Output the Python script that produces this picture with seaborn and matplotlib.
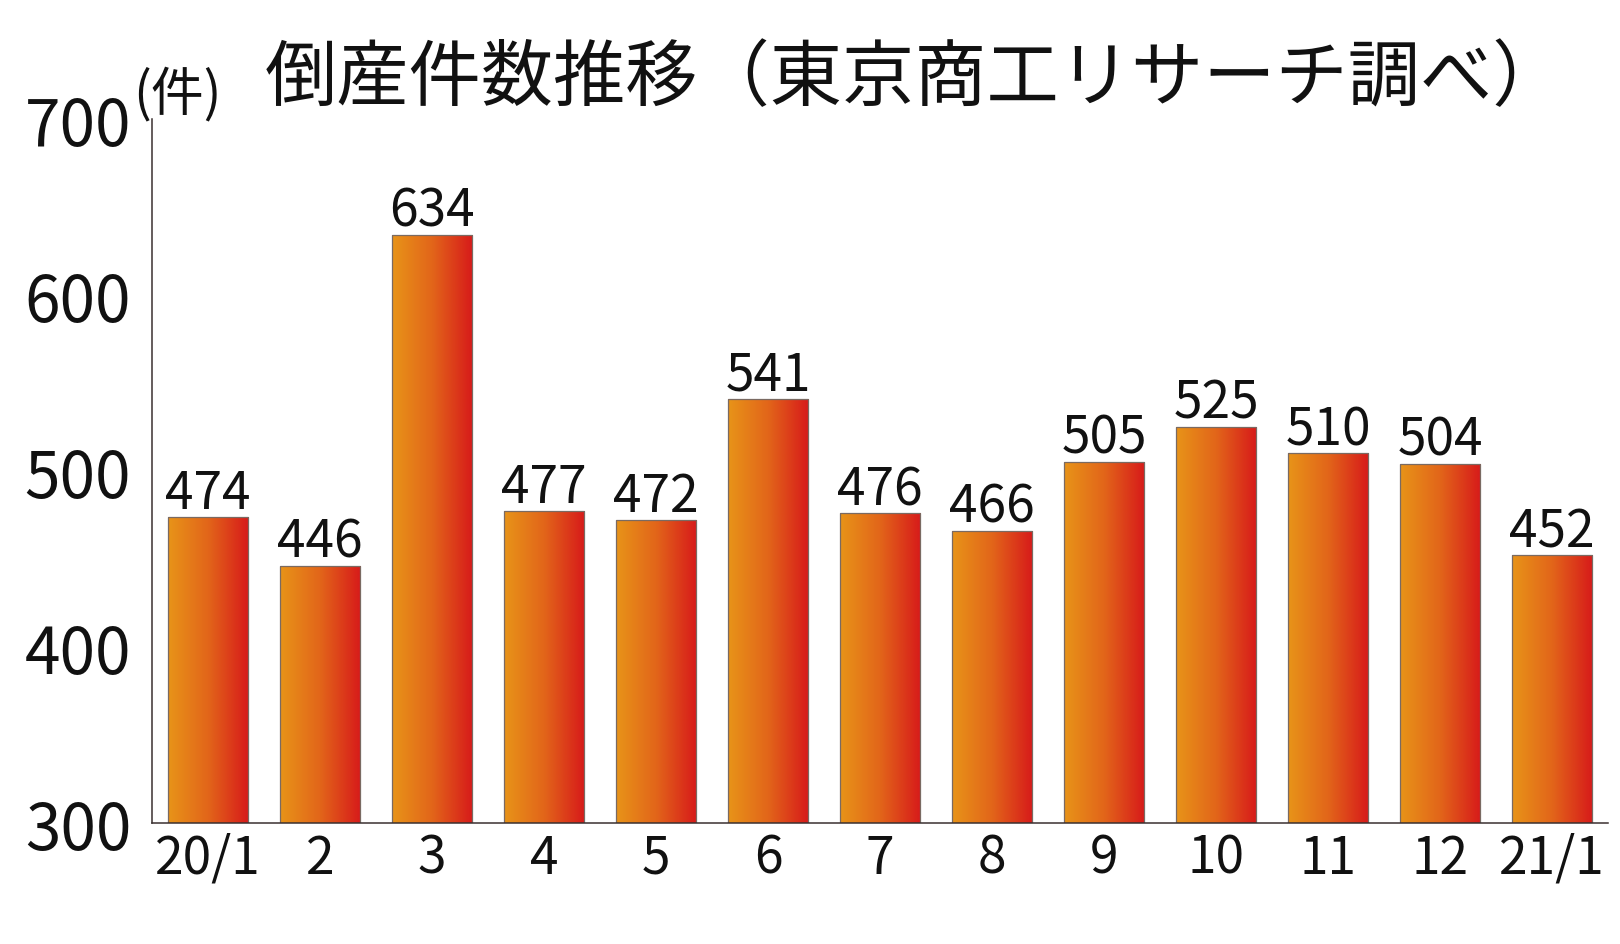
import numpy as np
import matplotlib
matplotlib.use("Agg")
import matplotlib.pyplot as plt
from matplotlib.colors import LinearSegmentedColormap
import seaborn as sns
import pandas as pd

months = ["20/1", "2", "3", "4", "5", "6", "7", "8", "9", "10", "11", "12", "21/1"]
counts = [474, 446, 634, 477, 472, 541, 476, 466, 505, 525, 510, 504, 452]
yticks = [300, 400, 500, 600, 700]
title = "倒産件数推移（東京商工リサーチ調べ）"
unit = "(件)"

sns.set_theme(style="white")
plt.rcParams['font.family'] = ['Noto Sans CJK JP', 'DejaVu Sans']

df = pd.DataFrame({"month": months, "count": counts})

fig = plt.figure(figsize=(16.2, 9.45), dpi=100)
ax = fig.add_axes([152/1620, 1-824/945, (1608-152)/1620, (824-120)/945])

sns.barplot(data=df, x="month", y="count", order=months, ax=ax, width=0.723,
            color="white", edgecolor="#7a6a62", linewidth=0.9, saturation=1)

ax.set_xlim(-0.5, 12.5)
ax.set_ylim(yticks[0], yticks[-1])
ymin = ax.get_ylim()[0]

cmap = LinearSegmentedColormap.from_list("og", ["#E89418", "#E2651A", "#D71A1A"])
grad = np.linspace(0, 1, 256).reshape(1, -1)
for p in ax.patches:
    p.set_facecolor("none")
    p.set_zorder(3)
    bb = p.get_bbox()
    im = ax.imshow(grad, cmap=cmap, extent=[bb.x0, bb.x1, max(bb.y0, ymin), bb.y1],
                   aspect="auto", origin="lower", zorder=2, interpolation="bicubic")
    im.set_clip_path(p)

ax.bar_label(ax.containers[0], labels=[str(v) for v in counts], padding=-2,
             fontsize=37, color="#111111")

ax.set_xlim(-0.5, 12.5)
ax.set_ylim(yticks[0], yticks[-1])
ax.set_yticks(yticks)
ax.set_yticklabels([str(t) for t in yticks])
ax.set_xlabel("")
ax.set_ylabel("")
ax.tick_params(axis="y", length=0, pad=15, labelsize=46, labelcolor="#111111")
ax.tick_params(axis="x", length=0, pad=6, labelsize=37, labelcolor="#111111")
for s in ["top", "right"]:
    ax.spines[s].set_visible(False)
for s in ["left", "bottom"]:
    ax.spines[s].set_color("#3a3030")
    ax.spines[s].set_linewidth(1.1)
    ax.spines[s].set_zorder(4)

fig.text(915/1620, 1-100/945, title, ha="center", va="baseline", fontsize=52, color="#111111")
fig.text(177/1620, 1-110/945, unit, ha="center", va="baseline", fontsize=38, color="#111111")

fig.savefig("out.png", dpi=100)
